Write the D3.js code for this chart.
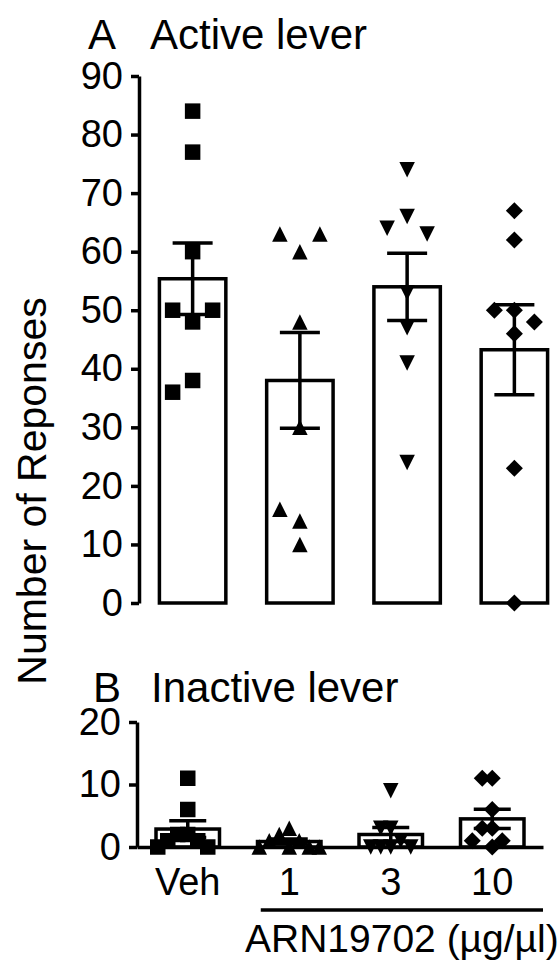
<!DOCTYPE html>
<html><head><meta charset="utf-8">
<script src="https://cdn.jsdelivr.net/npm/d3@7"></script>
<style>
body{margin:0;background:#fff}
text{font-family:"Liberation Sans",Arial,Helvetica,sans-serif;fill:#000}
</style></head>
<body><svg id="c" width="560" height="963"></svg>
<script>
// ---- data ----
const categories = ["Veh", "1", "3", "10"];
const activeVeh = [84, 77, 60, 48, 50, 50, 38, 36];
const active1   = [60, 63, 63, 48, 30, 14, 16, 10];
const active3   = [74, 66, 64, 63, 53, 47, 41, 24];
const active10  = [67, 62, 50, 50, 48, 46, 23, 0];
const inactiveVeh = [11, 6, 2, 2, 1, 1, 0, 0];
const inactive1   = [3, 2, 1, 1, 0, 0, 0, 0];
const inactive3   = [9, 3, 3, 1, 0, 0, 0, 0];
const inactive10  = [11, 11, 6, 3, 3, 1, 1, 0];
const activeTicks = [0, 10, 20, 30, 40, 50, 60, 70, 80, 90];
const inactiveTicks = [0, 10, 20];
const titleA = "Active lever", titleB = "Inactive lever";
const yLabel = "Number of Reponses";
const drugLabel = "ARN19702 (µg/µl)";

// ---- helpers ----
const svg = d3.select("#c");
const mk = f => ({draw(ctx, size){ const r = Math.sqrt(size)/2; f(ctx, r); }});
const shapes = [
  mk((c,r)=>{c.rect(-r,-r,2*r,2*r);}),
  mk((c,r)=>{c.moveTo(0,-r);c.lineTo(r,r);c.lineTo(-r,r);c.closePath();}),
  mk((c,r)=>{c.moveTo(-r,-r);c.lineTo(r,-r);c.lineTo(0,r);c.closePath();}),
  mk((c,r)=>{const q=r*1.1;c.moveTo(0,-q);c.lineTo(q,0);c.lineTo(0,q);c.lineTo(-q,0);c.closePath();})
];
const SW = 3.5;

function dodge(vals, y, thresh, maxSlot){
  const placed = [];
  return vals.map(v => {
    const py = y(v);
    const order = [0];
    for (let k = 1; k <= maxSlot; k++) order.push(-k, k);
    let slot = order.find(s => !placed.some(p => p.slot === s && Math.abs(p.py - py) < thresh));
    if (slot === undefined) slot = 0;
    placed.push({slot, py});
    return slot;
  });
}

function panel(opts){
  const {groups, x, y, ticks, capW, spacing, maxSlot, baseline} = opts;
  const g = svg.append("g");
  const yAxis = g.append("g").attr("transform", `translate(${x.range()[0]},0)`)
    .call(d3.axisLeft(y).tickValues(ticks).tickSize(8).tickPadding(8).tickSizeOuter(0));
  yAxis.selectAll("path,line").attr("stroke", "#000").attr("stroke-width", SW);
  yAxis.selectAll("text").attr("font-size", 38).attr("font-family", '"Liberation Sans",Arial,sans-serif');

  const bw = x.bandwidth();
  groups.forEach((vals, i) => {
    const cat = categories[i];
    const cx = x(cat) + bw/2;
    const m = d3.mean(vals);
    const sem = d3.deviation(vals) / Math.sqrt(vals.length);
    // bar
    g.append("rect").attr("x", x(cat) + SW/2).attr("y", y(m))
      .attr("width", bw - SW).attr("height", y(0) - y(m))
      .attr("fill", "#fff").attr("stroke", "#000").attr("stroke-width", SW);
    // points
    const slots = dodge(vals, y, 18, maxSlot);
    g.append("g").selectAll("path").data(vals).join("path")
      .attr("d", d3.symbol().type(shapes[i]).size(15.5*15.5))
      .attr("transform", (v, j) => `translate(${cx + slots[j]*spacing},${y(v)})`)
      .attr("fill", "#000");
    // error bar
    const eb = g.append("g").attr("stroke", "#000").attr("stroke-width", SW);
    eb.append("line").attr("x1", cx).attr("x2", cx).attr("y1", y(m + sem)).attr("y2", y(m - sem));
    [m + sem, m - sem].forEach(v => eb.append("line")
      .attr("x1", cx - capW/2).attr("x2", cx + capW/2).attr("y1", y(v)).attr("y2", y(v)));
  });
  return g;
}

// ---- Panel A ----
const xA = d3.scaleBand().domain(categories).range([139, 568]).paddingInner(0.348).paddingOuter(0.174);
const yA = d3.scaleLinear().domain([0, 90]).range([603, 76]);
panel({groups: [activeVeh, active1, active3, active10], x: xA, y: yA, ticks: activeTicks,
       capW: 40, spacing: 20, maxSlot: 2});

// ---- Panel B ----
const xB = d3.scaleBand().domain(categories).range([137, 543]).paddingInner(0.34).paddingOuter(0.17);
const yB = d3.scaleLinear().domain([0, 20]).range([847, 722]);
panel({groups: [inactiveVeh, inactive1, inactive3, inactive10], x: xB, y: yB, ticks: inactiveTicks,
       capW: 37, spacing: 10, maxSlot: 3});
const xAxisB = svg.append("g").attr("transform", `translate(0,${yB(0)})`)
  .call(d3.axisBottom(xB).tickSize(0).tickPadding(21).tickSizeOuter(0));
xAxisB.select("path").attr("stroke", "#000").attr("stroke-width", SW);
xAxisB.selectAll("text").attr("font-size", 38).attr("font-family", '"Liberation Sans",Arial,sans-serif');

// ---- titles & labels ----
svg.append("text").attr("x", 88).attr("y", 49).attr("font-size", 42).text("A");
svg.append("text").attr("x", 150).attr("y", 49).attr("font-size", 42).text(titleA);
svg.append("text").attr("x", 93).attr("y", 702).attr("font-size", 42).text("B");
svg.append("text").attr("x", 151).attr("y", 702).attr("font-size", 42).text(titleB);
svg.append("text").attr("transform", "translate(46,491) rotate(-90)")
  .attr("text-anchor", "middle").attr("font-size", 41).text(yLabel);
svg.append("line").attr("x1", xB("1") + 5).attr("x2", xB.range()[1]).attr("y1", 910).attr("y2", 910)
  .attr("stroke", "#000").attr("stroke-width", SW);
svg.append("text").attr("x", (xB("1") + 5 + xB.range()[1]) / 2).attr("y", 952)
  .attr("text-anchor", "middle").attr("font-size", 39).text(drugLabel);
</script></body></html>
